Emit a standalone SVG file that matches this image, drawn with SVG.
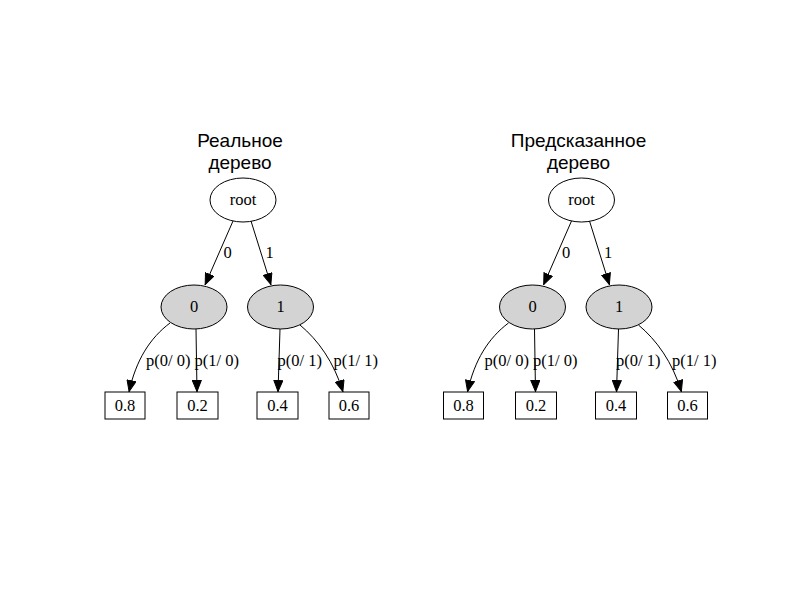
<svg xmlns="http://www.w3.org/2000/svg" width="800" height="600" viewBox="0 0 800 600">
<style>
.title{font-family:"Liberation Sans",Arial,sans-serif;font-size:19px;fill:#000;text-anchor:middle}
.lbl{font-family:"Liberation Serif","Times New Roman",serif;font-size:16.5px;fill:#000}
.mid{text-anchor:middle}
.ell{fill:#fff;stroke:#000;stroke-width:1}
.grey{fill:#d3d3d3;stroke:#000;stroke-width:1}
.box{fill:#fff;stroke:#000;stroke-width:1}
.edge{fill:none;stroke:#000;stroke-width:1;marker-end:url(#arr)}
</style>
<defs>
<marker id="arr" viewBox="0 0 12 10" refX="12" refY="5" markerWidth="12" markerHeight="10" markerUnits="userSpaceOnUse" orient="auto">
<path d="M0.5,0.5 L11.5,5 L0.5,9.5 Z" fill="#000" stroke="#000" stroke-width="1"/>
</marker>
</defs>
<rect width="800" height="600" fill="#fff"/>

<g id="tree-real">
<text class="title" x="240" y="147">Реальное</text>
<text class="title" x="240" y="169">дерево</text>
<g id="connectors-real">
<path class="edge" d="M233,221 L205,285"/>
<path class="edge" d="M251,221 L271,285"/>
<path class="edge" d="M170,323 C150,338 136,360 129,392"/>
<path class="edge" d="M196,329 L197,392"/>
<path class="edge" d="M280,329 L278,392"/>
<path class="edge" d="M300,325 C318,340 334,362 343,392"/>
<text class="lbl mid" x="227.5" y="258">0</text>
<text class="lbl mid" x="269.5" y="258">1</text>
<text class="lbl" x="146" y="366">p(0/ 0)</text>
<text class="lbl" x="194.5" y="366">p(1/ 0)</text>
<text class="lbl" x="277.5" y="366">p(0/ 1)</text>
<text class="lbl" x="333.5" y="366">p(1/ 1)</text>
</g>
<g id="real-root"><ellipse class="ell" cx="243" cy="200" rx="33" ry="22"/><text class="lbl mid" x="243" y="205">root</text></g>
<g id="real-n0"><ellipse class="grey" cx="194" cy="307" rx="33" ry="22"/><text class="lbl mid" x="194" y="312">0</text></g>
<g id="real-n1"><ellipse class="grey" cx="280.5" cy="307" rx="33" ry="22"/><text class="lbl mid" x="280.5" y="312">1</text></g>
<g id="real-l00"><rect class="box" x="105" y="392" width="40" height="27"/><text class="lbl mid" x="125" y="411">0.8</text></g>
<g id="real-l01"><rect class="box" x="177" y="392" width="41" height="27"/><text class="lbl mid" x="197.5" y="411">0.2</text></g>
<g id="real-l10"><rect class="box" x="257" y="392" width="41" height="27"/><text class="lbl mid" x="277.5" y="411">0.4</text></g>
<g id="real-l11"><rect class="box" x="329" y="392" width="40" height="27"/><text class="lbl mid" x="349" y="411">0.6</text></g>
</g>

<g id="tree-pred" transform="translate(338.5,0)">
<text class="title" x="240" y="147">Предсказанное</text>
<text class="title" x="240" y="169">дерево</text>
<g id="connectors-pred">
<path class="edge" d="M233,221 L205,285"/>
<path class="edge" d="M251,221 L271,285"/>
<path class="edge" d="M170,323 C150,338 136,360 129,392"/>
<path class="edge" d="M196,329 L197,392"/>
<path class="edge" d="M280,329 L278,392"/>
<path class="edge" d="M300,325 C318,340 334,362 343,392"/>
<text class="lbl mid" x="227.5" y="258">0</text>
<text class="lbl mid" x="269.5" y="258">1</text>
<text class="lbl" x="146" y="366">p(0/ 0)</text>
<text class="lbl" x="194.5" y="366">p(1/ 0)</text>
<text class="lbl" x="277.5" y="366">p(0/ 1)</text>
<text class="lbl" x="333.5" y="366">p(1/ 1)</text>
</g>
<g id="pred-root"><ellipse class="ell" cx="243" cy="200" rx="33" ry="22"/><text class="lbl mid" x="243" y="205">root</text></g>
<g id="pred-n0"><ellipse class="grey" cx="194" cy="307" rx="33" ry="22"/><text class="lbl mid" x="194" y="312">0</text></g>
<g id="pred-n1"><ellipse class="grey" cx="280.5" cy="307" rx="33" ry="22"/><text class="lbl mid" x="280.5" y="312">1</text></g>
<g id="pred-l00"><rect class="box" x="105" y="392" width="40" height="27"/><text class="lbl mid" x="125" y="411">0.8</text></g>
<g id="pred-l01"><rect class="box" x="177" y="392" width="41" height="27"/><text class="lbl mid" x="197.5" y="411">0.2</text></g>
<g id="pred-l10"><rect class="box" x="257" y="392" width="41" height="27"/><text class="lbl mid" x="277.5" y="411">0.4</text></g>
<g id="pred-l11"><rect class="box" x="329" y="392" width="40" height="27"/><text class="lbl mid" x="349" y="411">0.6</text></g>
</g>
</svg>
